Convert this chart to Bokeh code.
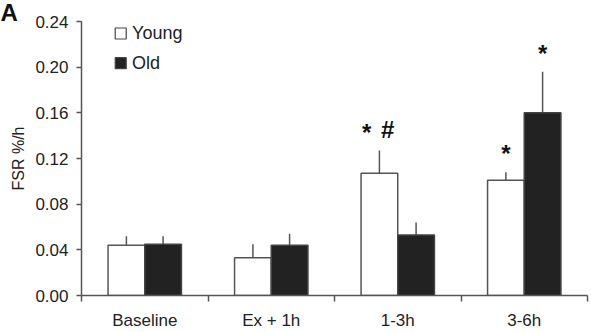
from bokeh.plotting import figure
from bokeh.models import FixedTicker, PrintfTickFormatter, ColumnDataSource
from bokeh.core.properties import value
from bokeh.embed import file_html
from bokeh.resources import INLINE

categories = ["Baseline", "Ex + 1h", "1-3h", "3-6h"]
young = [0.044, 0.033, 0.107, 0.101]
young_err = [0.052, 0.045, 0.127, 0.108]
old = [0.045, 0.044, 0.053, 0.160]
old_err = [0.052, 0.054, 0.064, 0.196]
y_ticks = [0.0, 0.04, 0.08, 0.12, 0.16, 0.20, 0.24]
marks = [(2, "young", "*"), (2, "young", "#"), (3, "young", "*"), (3, "old", "*")]

FONT = "Liberation Sans"
AX = "#555555"

p = figure(width=591, height=332, x_range=(0, 4), y_range=(0, 0.24),
           output_backend="svg", toolbar_location=None, title="A",
           min_border_left=81, min_border_right=4, min_border_top=21, min_border_bottom=35)
p.title.align = "left"
p.title.offset = -81
p.title.standoff = -8
p.title.text_font = FONT
p.title.text_font_size = "24px"
p.title.text_font_style = "bold"
p.title.text_color = "#111111"
p.outline_line_color = None
p.grid.grid_line_color = None
p.background_fill_color = "white"
p.border_fill_color = "white"

off = 0.145
w = 0.29
xs_y = [i + 0.5 - off for i in range(len(categories))]
xs_o = [i + 0.5 + off for i in range(len(categories))]

src_y = ColumnDataSource(dict(x=xs_y, top=young, err=young_err))
src_o = ColumnDataSource(dict(x=xs_o, top=old, err=old_err))

for src in (src_y, src_o):
    p.segment(x0="x", y0="top", x1="x", y1="err", source=src, line_color=AX, line_width=1.5)
    p.rect(x="x", y="err", width=0.08, height=0, source=src, line_color=AX, line_width=1.5)

p.vbar(x="x", top="top", bottom=0, width=w, source=src_y, fill_color="white",
       line_color=AX, line_width=1.5)
p.vbar(x="x", top="top", bottom=0, width=w, source=src_o, fill_color="#222222",
       line_color="#444444", line_width=1.5)

# significance marks
mx, my, mt = [], [], []
for cat, grp, sym in marks:
    base = xs_y[cat] if grp == "young" else xs_o[cat]
    top = young_err[cat] if grp == "young" else old_err[cat]
    if sym == "#":
        mx.append(base + 0.065); my.append(top + 0.018); mt.append(sym)
    elif cat == 2:
        mx.append(base - 0.1); my.append(top + 0.016); mt.append(sym)
    else:
        mx.append(base); my.append(top + 0.016); mt.append(sym)
msrc = ColumnDataSource(dict(x=mx, y=my, t=mt))
p.text(x="x", y="y", text="t", source=msrc, text_font=value(FONT), text_font_size="24px",
       text_font_style="bold", text_align="center", text_baseline="middle", text_color="#111111")

# legend
leg_src = ColumnDataSource(dict(x=[0.31, 0.31], y=[0.2295, 0.2035],
                                fc=["white", "#222222"], lbl=["Young", "Old"]))
p.scatter(x="x", y="y", marker="square", size=11, fill_color="fc", line_color="#444444",
          line_width=1.2, source=leg_src)
p.text(x=[0.4, 0.4], y=[0.2295, 0.2035], text=["Young", "Old"], text_font=value(FONT),
       text_font_size="18px", text_baseline="middle", text_color="#222222")

# axes
xa = p.xaxis[0]
xa.ticker = FixedTicker(ticks=[i + 0.5 for i in range(len(categories))],
                        minor_ticks=list(range(len(categories) + 1)))
xa.major_label_overrides = {i + 0.5: c for i, c in enumerate(categories)}
xa.major_tick_out = 0
xa.major_tick_in = 0
xa.minor_tick_out = 6
xa.minor_tick_in = 0
xa.minor_tick_line_color = AX
xa.minor_tick_line_width = 1.5
xa.axis_line_color = AX
xa.axis_line_width = 1.5
xa.major_label_text_font = FONT
xa.major_label_text_font_size = "17px"
xa.major_label_text_color = "#222222"
xa.major_label_standoff = 9

ya = p.yaxis[0]
ya.ticker = FixedTicker(ticks=y_ticks)
ya.formatter = PrintfTickFormatter(format="%.2f")
ya.minor_tick_line_color = None
ya.major_tick_out = 5
ya.major_tick_in = 0
ya.major_tick_line_color = AX
ya.major_tick_line_width = 1.5
ya.axis_line_color = AX
ya.axis_line_width = 1.5
ya.major_label_text_font = FONT
ya.major_label_text_font_size = "17px"
ya.major_label_text_color = "#222222"
ya.major_label_standoff = 8
ya.axis_label = "FSR %/h"
ya.axis_label_text_font = FONT
ya.axis_label_text_font_size = "16px"
ya.axis_label_text_font_style = "normal"
ya.axis_label_text_color = "#222222"
ya.axis_label_standoff = 5

open("out.html", "w").write(file_html(p, INLINE))
